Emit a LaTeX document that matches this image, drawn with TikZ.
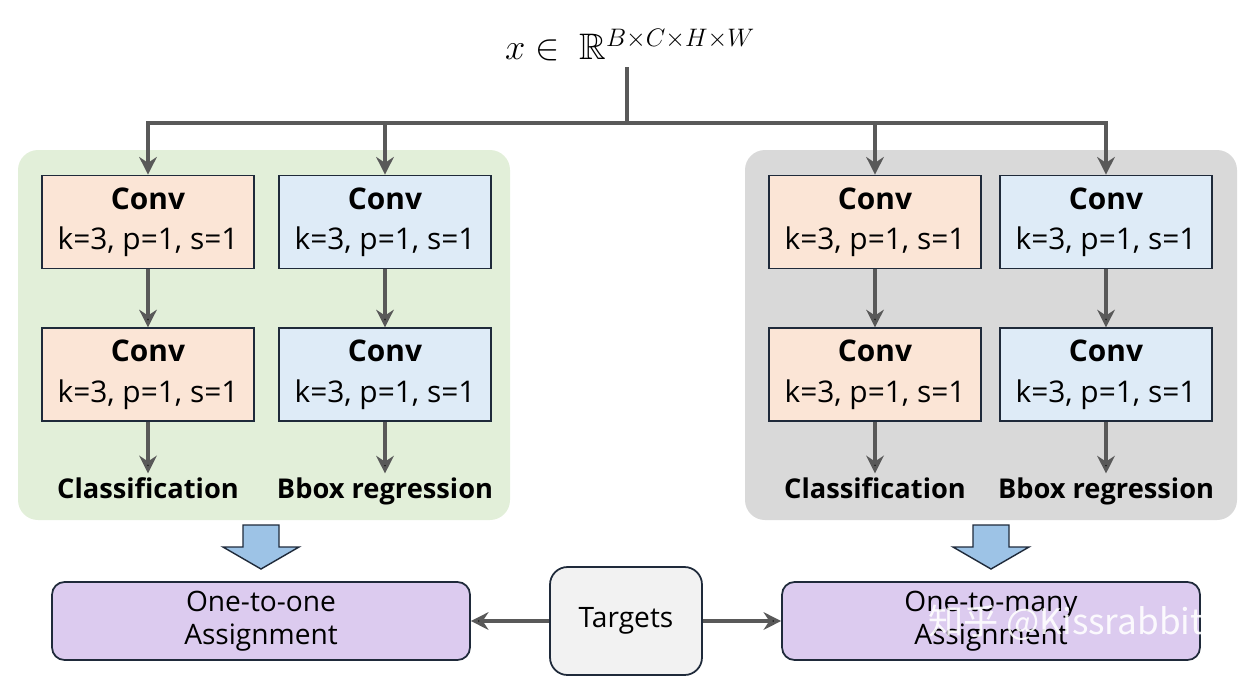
\documentclass[tikz,border=0pt]{standalone}
\usepackage{amssymb}
\usepackage{amsmath}
\usepackage{fontspec}
\setmainfont{Open Sans}
\newfontfamily\cjkfont{Noto Sans CJK SC}
\usetikzlibrary{positioning,arrows.meta}

\definecolor{clsfill}{HTML}{FBE5D6}
\definecolor{regfill}{HTML}{DEEBF7}
\definecolor{boxline}{HTML}{1F2A3A}
\definecolor{greenbg}{HTML}{E2EFD9}
\definecolor{graybg}{HTML}{D9D9D9}
\definecolor{assignfill}{HTML}{DCCBEF}
\definecolor{tgtfill}{HTML}{F2F2F2}
\definecolor{linegray}{HTML}{595959}
\definecolor{arrowfill}{HTML}{9DC3E6}

\tikzset{
  conv/.style={draw=boxline, line width=1pt, minimum width=4.24cm, minimum height=1.86cm,
    inner sep=0pt, align=center, font=\fontsize{17}{23}\selectfont},
  head/.style={font=\fontsize{15.5}{18}\selectfont\bfseries, inner sep=2pt, anchor=base},
  assign/.style={draw=boxline, line width=1pt, fill=assignfill, rounded corners=0.25cm,
    minimum width=8.36cm, minimum height=1.56cm, align=center,
    font=\fontsize{16}{18.5}\selectfont},
  conn/.style={draw=linegray, line width=1.8pt, -{Stealth[length=10pt,width=10pt]}},
  blockarrow/.style={draw=boxline, line width=0.8pt, fill=arrowfill},
}

\begin{document}
\begin{tikzpicture}[x=0.02cm, y=-0.02cm]
  \useasboundingbox (0,0) rectangle (1257,691);
  % panels
  \fill [greenbg, rounded corners=0.4cm] (18,150) rectangle (510,520);
  \fill [graybg, rounded corners=0.4cm] (745,150) rectangle (1237,520);

  % input
  \node [font=\fontsize{21}{21}\selectfont] (x) at (630,45) {$x \in\ \mathbb{R}^{B\times C\times H\times W}$};
  \coordinate (fork) at (627,123);

  % one-to-one head
  \node [conv, fill=clsfill] (lc1) at (148,222) {\textbf{Conv}\\k=3, p=1, s=1};
  \node [conv, fill=regfill] (lr1) at (385,222) {\textbf{Conv}\\k=3, p=1, s=1};
  \node [conv, fill=clsfill] (lc2) [below=1.16cm of lc1] {\textbf{Conv}\\k=3, p=1, s=1};
  \node [conv, fill=regfill] (lr2) [below=1.16cm of lr1] {\textbf{Conv}\\k=3, p=1, s=1};
  \node [head] (lcls) at (148,498) {Classification};
  \node [head] (lreg) at (385,498) {Bbox regression};

  % one-to-many head
  \node [conv, fill=clsfill] (rc1) at (875,222) {\textbf{Conv}\\k=3, p=1, s=1};
  \node [conv, fill=regfill] (rr1) at (1106,222) {\textbf{Conv}\\k=3, p=1, s=1};
  \node [conv, fill=clsfill] (rc2) [below=1.16cm of rc1] {\textbf{Conv}\\k=3, p=1, s=1};
  \node [conv, fill=regfill] (rr2) [below=1.16cm of rr1] {\textbf{Conv}\\k=3, p=1, s=1};
  \node [head] (rcls) at (875,498) {Classification};
  \node [head] (rreg) at (1106,498) {Bbox regression};

  % assignment
  \node [assign] (o2o) at (261,621) {One-to-one\\Assignment};
  \node [assign] (o2m) at (991,621) {One-to-many\\Assignment};
  \node [draw=boxline, line width=1pt, fill=tgtfill, rounded corners=0.35cm,
    minimum width=3.04cm, minimum height=2.16cm, font=\fontsize{16}{18}\selectfont]
    (tgt) at (626,621) {Targets};

  \draw [linegray, line width=1.8pt] (x.south -| fork) -- (fork);
  \draw [conn] (fork) -| (lc1);
  \draw [conn] (fork) -| (lr1);
  \draw [conn] (fork) -| (rc1);
  \draw [conn] (fork) -| (rr1);
  \path [conn]
  (lc1) edge (lc2)
  (lr1) edge (lr2)
  (rc1) edge (rc2)
  (rr1) edge (rr2)
  (lc2) edge (lcls)
  (lr2) edge (lreg)
  (rc2) edge (rcls)
  (rr2) edge (rreg)
  (tgt) edge (o2o)
  (tgt) edge (o2m);

  % block arrows
  \draw [blockarrow] (243,525) -- (279,525) -- (279,547) -- (299,547) -- (261,569)
    -- (223,547) -- (243,547) -- cycle;
  \draw [blockarrow] (973,525) -- (1009,525) -- (1009,547) -- (1029,547) -- (991,569)
    -- (953,547) -- (973,547) -- cycle;

  % watermark
  \node [text=white, opacity=0.9, font=\fontsize{20}{20}\selectfont] (wm) at (1066,623)
    {\cjkfont 知乎 @Kissrabbit};
\end{tikzpicture}
\end{document}
